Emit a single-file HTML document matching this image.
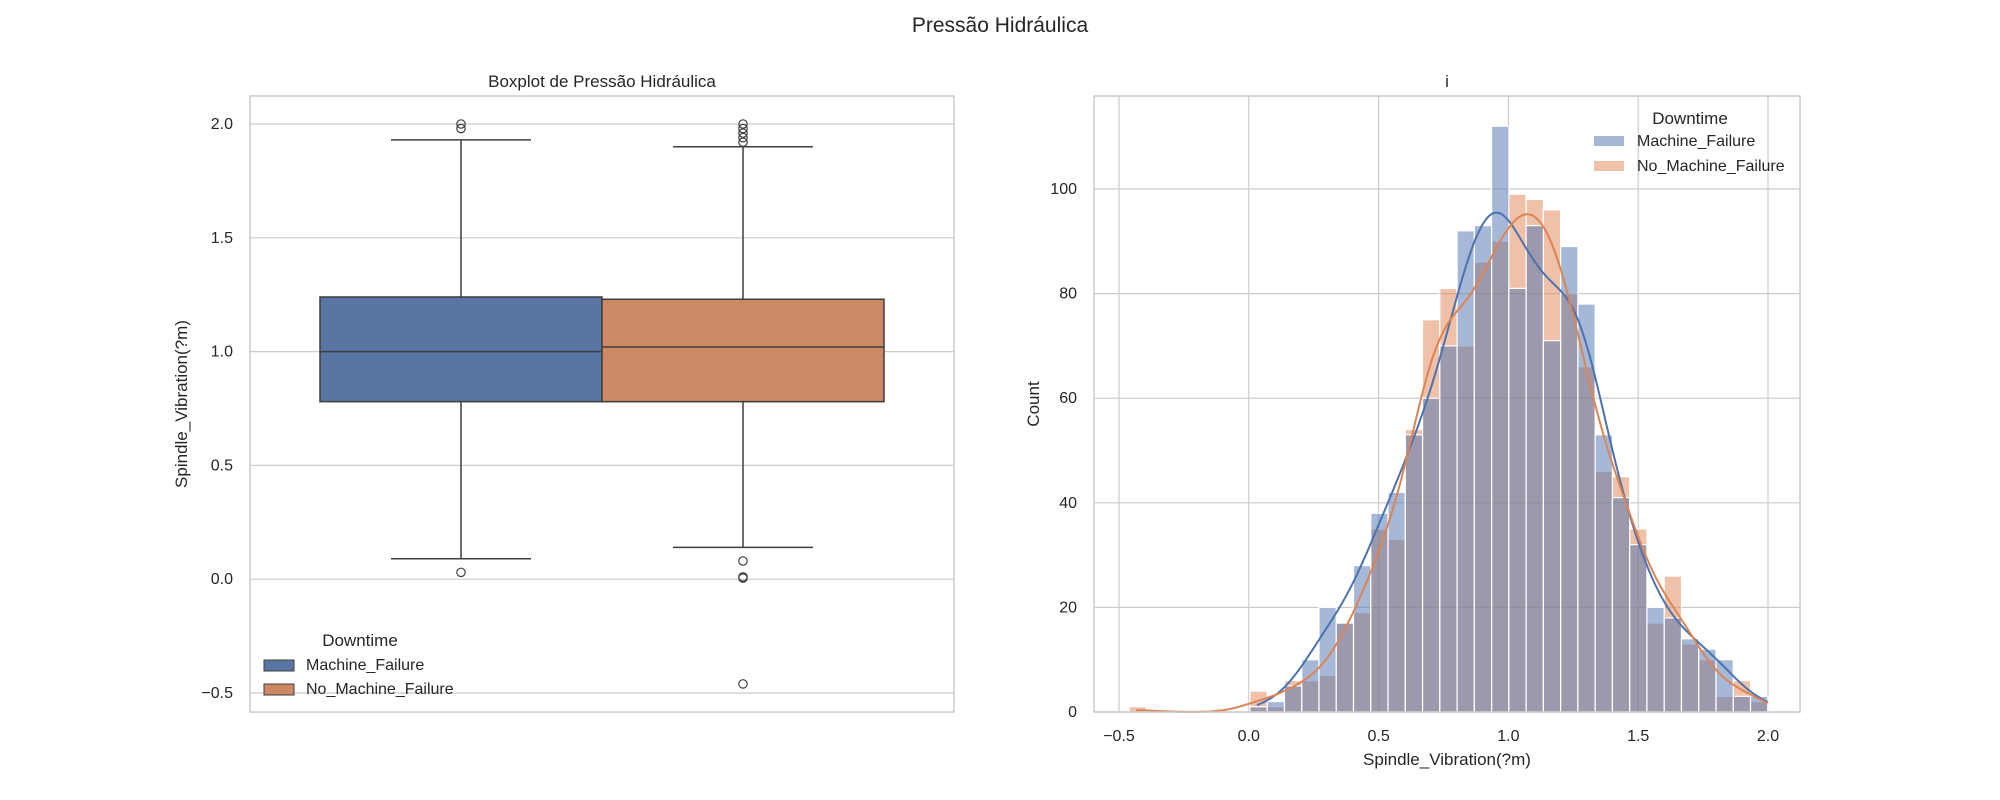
<!DOCTYPE html>
<html><head><meta charset="utf-8"><style>
html,body{margin:0;padding:0;background:#fff;}
svg{display:block;font-family:"Liberation Sans","DejaVu Sans",sans-serif;}
</style></head><body>
<svg id="chart" width="2000" height="800" viewBox="0 0 2000 800">
<text x="1000" y="32" text-anchor="middle" font-size="21" fill="#262626">Pressão Hidráulica</text>
<g id="left"></g>
<g id="right"></g>
</svg>
<script>
// Boxplot data
const boxGroups = ["Machine_Failure", "No_Machine_Failure"];
const boxQ1 = [0.78, 0.78];
const boxMedian = [1.0, 1.02];
const boxQ3 = [1.24, 1.23];
const boxWhiskLo = [0.09, 0.14];
const boxWhiskHi = [1.93, 1.90];
const boxFliers = [[0.03, 1.98, 2.0], [0.08, 0.01, 0.005, -0.46, 1.92, 1.94, 1.96, 1.98, 2.0]];
const boxYTicks = [-0.5, 0.0, 0.5, 1.0, 1.5, 2.0];
// Histogram data
const binStart = -0.461;
const binWidth = 0.06649;
const countsMF = [0,0,0,0,0,0,0,1,2,5,10,20,17,28,38,42,53,60,70,92,93,112,81,93,71,89,78,53,41,32,20,18,14,12,10,3,3];
const countsNMF = [1,0,0,0,0,0,0,4,1,6,6,7,17,19,35,33,54,75,81,70,86,90,99,98,96,80,66,46,45,35,17,26,13,10,3,6,2];
const histXTicks = [-0.5, 0.0, 0.5, 1.0, 1.5, 2.0];
const histYTicks = [0, 20, 40, 60, 80, 100];

const NS = "http://www.w3.org/2000/svg";
function mk(parent, tag, attrs, text){
  const e = document.createElementNS(NS, tag);
  for (const k in attrs) e.setAttribute(k, attrs[k]);
  if (text !== undefined) e.textContent = text;
  parent.appendChild(e);
  return e;
}
const fmt = v => (v < 0 ? "\u2212" : "") + Math.abs(v).toFixed(1);
const colBox = ["#5975a4", "#cc8963"];
const colHist = ["#4c72b0", "#dd8452"];
const FS = 16;

// ---------- Left boxplot ----------
const L = document.getElementById("left");
const LX0 = 250, LX1 = 954, LY0 = 96, LY1 = 712;
const yL = v => 124 + (2 - v) * 227.6;
boxYTicks.forEach(t => {
  const g = mk(L, "line", {x1: LX0, x2: LX1, y1: yL(t), y2: yL(t), stroke: "#cccccc", "stroke-width": 1.2});
  
  
  const tx = mk(L, "text", {x: 233, y: yL(t) + 5, "text-anchor": "end", "font-size": FS, fill: "#262626"}, fmt(t));
  
  
});
const xBand = i => 320 + i * 282;
boxGroups.forEach((name, i) => {
  const x0 = xBand(i), w = 282, cx = x0 + w / 2;
  const wl = mk(L, "line", {x1: cx, x2: cx, y1: yL(boxWhiskHi[i]), y2: yL(boxWhiskLo[i]), stroke: "#3f3f3f", "stroke-width": 1.5});
  
  
  [boxWhiskHi[i], boxWhiskLo[i]].forEach(v => {
    const c = mk(L, "line", {x1: cx - 70, x2: cx + 70, y1: yL(v), y2: yL(v), stroke: "#3f3f3f", "stroke-width": 1.5});
    
    
  });
  const r = mk(L, "rect", {x: x0, y: yL(boxQ3[i]), width: w, height: yL(boxQ1[i]) - yL(boxQ3[i]), fill: colBox[i], stroke: "#3f3f3f", "stroke-width": 1.5});
  
  
  const m = mk(L, "line", {x1: x0, x2: x0 + w, y1: yL(boxMedian[i]), y2: yL(boxMedian[i]), stroke: "#3f3f3f", "stroke-width": 1.5});
  
  
  boxFliers[i].forEach(v => {
    const f = mk(L, "circle", {cx: cx, cy: yL(v), r: 4.2, fill: "none", stroke: "#3f3f3f", "stroke-width": 1.2});
    
    
  });
});
const lf = mk(L, "rect", {x: LX0, y: LY0, width: LX1 - LX0, height: LY1 - LY0, fill: "none", stroke: "#cccccc", "stroke-width": 1.5});


const lt = mk(L, "text", {x: 602, y: 87, "text-anchor": "middle", "font-size": 17, fill: "#262626"}, "Boxplot de Pressão Hidráulica");


const ly = mk(L, "text", {x: 187, y: 404, "text-anchor": "middle", "font-size": 17, fill: "#262626", transform: "rotate(-90 187 404)"}, "Spindle_Vibration(?m)");


const lgT = mk(L, "text", {x: 360, y: 646, "text-anchor": "middle", "font-size": 17, fill: "#262626"}, "Downtime");


boxGroups.forEach((name, i) => {
  const yy = 665 + i * 24;
  const p = mk(L, "rect", {x: 264, y: yy - 5, width: 30, height: 11, fill: colBox[i], stroke: "#3f3f3f", "stroke-width": 1});
  
  
  const t = mk(L, "text", {x: 306, y: yy + 5, "font-size": FS, fill: "#262626"}, name);
  
  
});

// ---------- Right histogram ----------
const R = document.getElementById("right");
const RX0 = 1094, RX1 = 1800, RY0 = 96, RY1 = 712;
const xR = v => 1119 + (v + 0.5) * 259.6;
const yR = c => 712 - c * 5.23;
histXTicks.forEach(t => {
  const g = mk(R, "line", {x1: xR(t), x2: xR(t), y1: RY0, y2: RY1, stroke: "#cccccc", "stroke-width": 1.2});
  
  
  const tx = mk(R, "text", {x: xR(t), y: 741, "text-anchor": "middle", "font-size": FS, fill: "#262626"}, fmt(t));
  
  
});
histYTicks.forEach(t => {
  const g = mk(R, "line", {x1: RX0, x2: RX1, y1: yR(t), y2: yR(t), stroke: "#cccccc", "stroke-width": 1.2});
  
  
  const tx = mk(R, "text", {x: 1077, y: yR(t) + 5, "text-anchor": "end", "font-size": FS, fill: "#262626"}, String(t));
  
  
});
// draw orange first, blue on top (gives gray-purple overlap)
[[countsNMF, 1], [countsMF, 0]].forEach(([counts, s]) => {
  counts.forEach((c, i) => {
    if (c <= 0) return;
    const a = binStart + i * binWidth, b = a + binWidth;
    const r = mk(R, "rect", {x: xR(a), y: yR(c), width: xR(b) - xR(a), height: yR(0) - yR(c), fill: colHist[s], "fill-opacity": 0.5, stroke: "#ffffff", "stroke-width": 1.2});
    
    
  });
});
// KDE curves computed from histogram arrays
[countsMF, countsNMF].forEach((counts, s) => {
  let n = 0, mean = 0, sq = 0, first = -1, last = -1;
  counts.forEach((c, i) => { if (c > 0) { if (first < 0) first = i; last = i; } const m = binStart + (i + 0.5) * binWidth; n += c; mean += c * m; sq += c * m * m; });
  mean /= n; const sd = Math.sqrt(sq / n - mean * mean);
  const bw = 1.0 * sd * Math.pow(n, -0.2);
  const lo = binStart + first * binWidth + binWidth * 0.4, hi = binStart + (last + 1) * binWidth;
  let d = "";
  for (let k = 0; k <= 300; k++) {
    const x = lo + (hi - lo) * k / 300;
    let dens = 0;
    counts.forEach((c, i) => { const m = binStart + (i + 0.5) * binWidth; const z = (x - m) / bw; dens += c * Math.exp(-0.5 * z * z); });
    dens = dens / (bw * Math.sqrt(2 * Math.PI)) * binWidth;
    d += (k ? "L" : "M") + xR(x).toFixed(1) + "," + yR(dens).toFixed(1);
  }
  const p = mk(R, "path", {d: d, fill: "none", stroke: colHist[s], "stroke-width": 2});
  
  
});
const rf = mk(R, "rect", {x: RX0, y: RY0, width: RX1 - RX0, height: RY1 - RY0, fill: "none", stroke: "#cccccc", "stroke-width": 1.5});


const rt = mk(R, "text", {x: 1447, y: 87, "text-anchor": "middle", "font-size": 17, fill: "#262626"}, "i");


const rxl = mk(R, "text", {x: 1447, y: 765, "text-anchor": "middle", "font-size": 17, fill: "#262626"}, "Spindle_Vibration(?m)");


const ryl = mk(R, "text", {x: 1039, y: 404, "text-anchor": "middle", "font-size": 17, fill: "#262626", transform: "rotate(-90 1039 404)"}, "Count");


const rlt = mk(R, "text", {x: 1690, y: 124, "text-anchor": "middle", "font-size": 17, fill: "#262626"}, "Downtime");


boxGroups.forEach((name, i) => {
  const yy = 141 + i * 25;
  const p = mk(R, "rect", {x: 1594, y: yy - 5, width: 30, height: 10, fill: colHist[i], "fill-opacity": 0.5});
  
  
  const t = mk(R, "text", {x: 1637, y: yy + 5, "font-size": FS, fill: "#262626"}, name);
  
  
});
</script>
</body></html>
